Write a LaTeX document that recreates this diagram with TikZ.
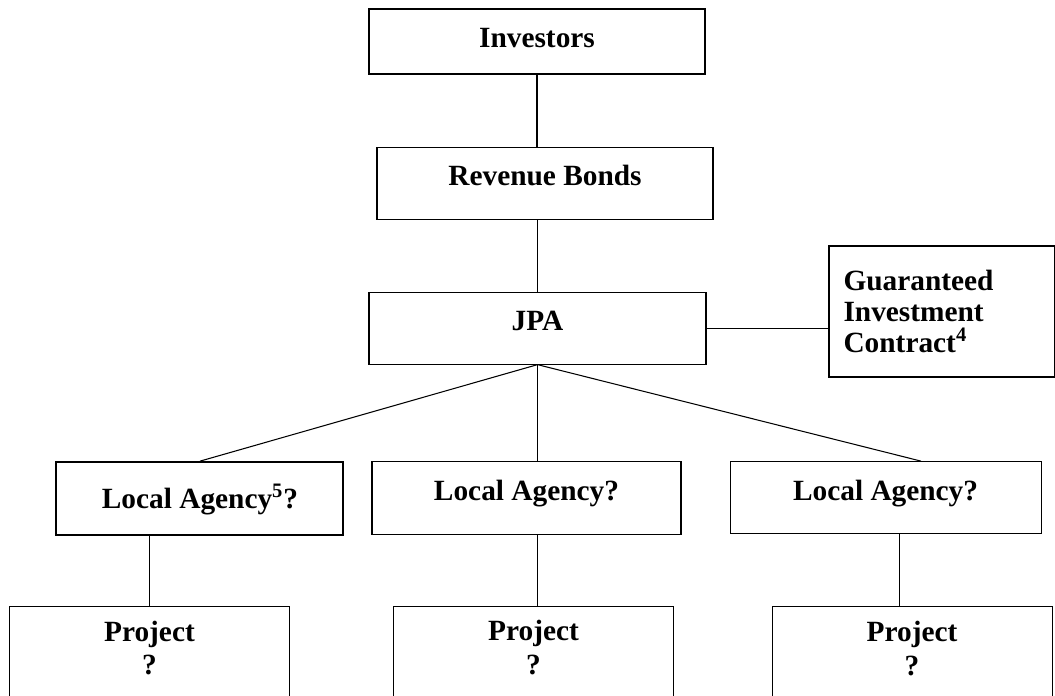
\documentclass[tikz,border=0pt]{standalone}
\usepackage{fontspec}
\setmainfont{Liberation Serif}
\usepackage{tikz}
\usetikzlibrary{positioning}

\begin{document}
\begin{tikzpicture}[node distance=1.44cm,
    box/.style={rectangle, draw, line width=0.6pt, inner sep=0pt, text centered, font=\bfseries\fontsize{16.7}{17.6}\selectfont},
    heavybox/.style={box, line width=1.15pt},
    textpos/.style={text height=0.4cm, text depth=#1},
    projbox/.style={box, minimum width=5.6cm, align=center, inner ysep=0.28cm, text depth=2cm, font=\bfseries\fontsize{16.7}{19.3}\selectfont},
    link/.style={line width=0.6pt}]

    \useasboundingbox (0,0) rectangle (21.1,-13.92);

    % Funding chain
    \node[box, textpos=0.14cm, minimum width=6.72cm, minimum height=1.30cm] (inv) at (10.74,-0.83) {Investors};
    \node[box, textpos=0.32cm, minimum width=6.72cm, minimum height=1.44cm, below=of inv, xshift=0.16cm] (bonds) {Revenue Bonds};
    \node[box, textpos=0.32cm, minimum width=6.74cm, minimum height=1.44cm, below=of bonds, xshift=-0.15cm] (jpa) {JPA};

    % Contract
    \node[heavybox, minimum width=4.52cm, minimum height=2.62cm, text width=3.92cm, inner xsep=0.3cm, align=left, right=2.42cm of jpa, yshift=0.33cm] (gic) {Guaranteed\\Investment\\Contract\textsuperscript{4}};

    % Local agencies
    \node[box, textpos=0.29cm, minimum width=6.18cm, minimum height=1.46cm, below=1.92cm of jpa, xshift=-0.22cm] (agency2) {Local Agency?};
    \node[heavybox, textpos=0cm, minimum width=5.74cm, minimum height=1.46cm, left=0.54cm of agency2, yshift=-0.02cm] (agency1) {Local Agency\textsuperscript{5}?};
    \node[box, textpos=0.29cm, minimum width=6.22cm, minimum height=1.44cm, right=0.96cm of agency2] (agency3) {Local Agency?};

    % Projects
    \node[projbox, below=1.40cm of agency1, xshift=-1.01cm] (proj1) {Project\\?};
    \node[projbox, below=1.42cm of agency2, xshift=0.14cm] (proj2) {Project\\?};
    \node[projbox, below=1.44cm of agency3, xshift=0.53cm] (proj3) {Project\\?};

    % Lines
    \draw[link] (inv.south) -- (inv.south |- bonds.north);
    \draw[link] (jpa.north) -- (jpa.north |- bonds.south);
    \draw[link] (jpa.east) -- (jpa.east -| gic.west);
    \draw[link] (jpa.south) -- (agency1.north);
    \draw[link] (jpa.south) -- (jpa.south |- agency2.north);
    \draw[link] (jpa.south) -- ([xshift=0.71cm]agency3.north);
    \draw[link] (proj1.north) -- (proj1.north |- agency1.south);
    \draw[link] (jpa.south |- agency2.south) -- (jpa.south |- proj2.north);
    \draw[link] ([xshift=0.27cm]agency3.south) -- ([xshift=0.27cm]agency3.south |- proj3.north);

\end{tikzpicture}
\end{document}
